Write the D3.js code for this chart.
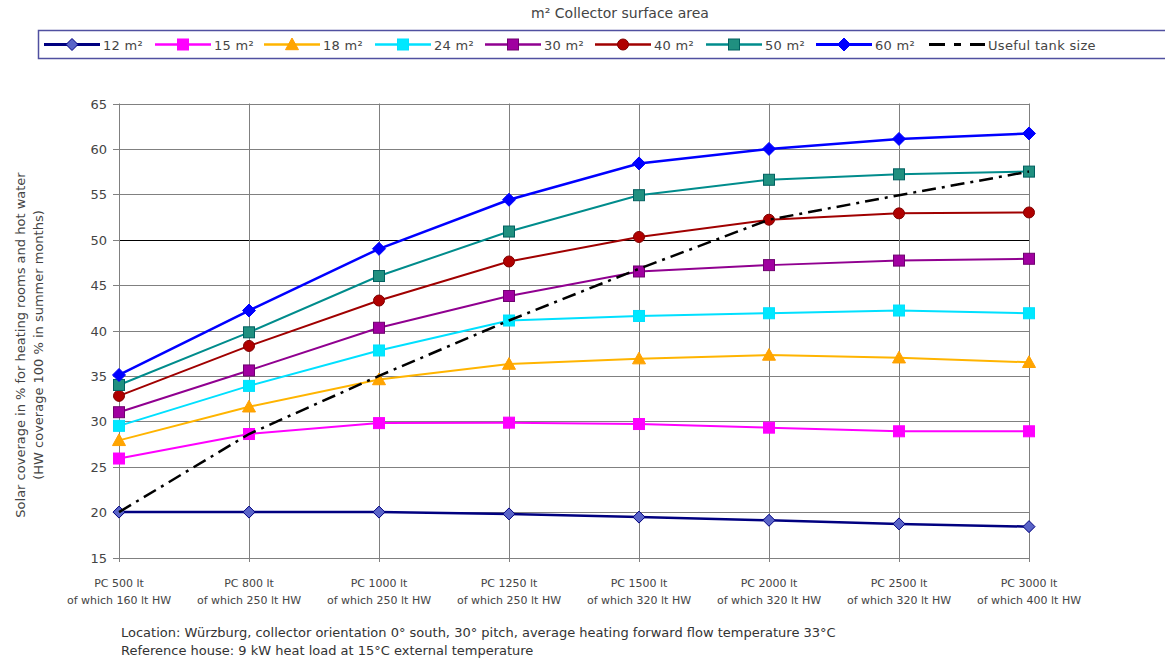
<!DOCTYPE html>
<html><head><meta charset="utf-8">
<script src="https://cdn.jsdelivr.net/npm/d3@7"></script>
<style>
html,body{margin:0;padding:0;background:#fff;}
svg{display:block;font-family:"DejaVu Sans",sans-serif;}
</style></head>
<body>
<svg id="chart" width="1165" height="662"></svg>
<script>
const categoriesTop = ["PC 500 lt","PC 800 lt","PC 1000 lt","PC 1250 lt","PC 1500 lt","PC 2000 lt","PC 2500 lt","PC 3000 lt"];
const categoriesBottom = ["of which 160 lt HW","of which 250 lt HW","of which 250 lt HW","of which 250 lt HW","of which 320 lt HW","of which 320 lt HW","of which 320 lt HW","of which 400 lt HW"];
const yTicks = [15,20,25,30,35,40,45,50,55,60,65];
const seriesNames = ["12 m²","15 m²","18 m²","24 m²","30 m²","40 m²","50 m²","60 m²","Useful tank size"];
const s12 = [20.0, 20.0, 20.0, 19.8, 19.45, 19.1, 18.7, 18.4];
const s15 = [25.9, 28.6, 29.8, 29.85, 29.7, 29.3, 28.9, 28.9];
const s18 = [27.9, 31.6, 34.6, 36.3, 36.9, 37.3, 37.0, 36.5];
const s24 = [29.5, 33.9, 37.8, 41.1, 41.6, 41.9, 42.2, 41.9];
const s30 = [31.0, 35.6, 40.3, 43.8, 46.5, 47.2, 47.7, 47.9];
const s40 = [32.8, 38.3, 43.3, 47.6, 50.3, 52.2, 52.9, 53.0];
const s50 = [34.0, 39.8, 46.0, 50.9, 54.9, 56.6, 57.2, 57.5];
const s60 = [35.1, 42.2, 49.0, 54.4, 58.4, 60.0, 61.1, 61.7];
const tank = [20.0, 28.6, 35.0, 41.1, 46.8, 52.2, 54.9, 57.5];
const footnotes = ["Location: Würzburg, collector orientation 0° south, 30° pitch, average heating forward flow temperature 33°C",
                   "Reference house: 9 kW heat load at 15°C external temperature"];

const styles = [
  {line:"#000080", fill:"#5a64c8", stroke:"#000080", shape:"diamond", w:2.5, size:10},
  {line:"#ff00ff", fill:"#ff00ff", stroke:"#ff00ff", shape:"square", w:2, size:11},
  {line:"#ffb400", fill:"#ffa500", stroke:"#ffa000", shape:"triangle", w:2, size:12},
  {line:"#00e0ff", fill:"#00e8ff", stroke:"#00e0ff", shape:"square", w:2, size:11},
  {line:"#900090", fill:"#a000a0", stroke:"#700070", shape:"square", w:2, size:11},
  {line:"#a00000", fill:"#b00000", stroke:"#800000", shape:"circle", w:2, size:11},
  {line:"#008c8c", fill:"#209080", stroke:"#006060", shape:"square", w:2, size:11},
  {line:"#0000ff", fill:"#0000ff", stroke:"#0000ff", shape:"diamond", w:2.5, size:11},
  {line:"#000000", dash:"14,6,3,6", w:2.5}
];
const allSeries = [s12,s15,s18,s24,s30,s40,s50,s60,tank];

const svg = d3.select("#chart");
const x = d3.scalePoint().domain(d3.range(categoriesTop.length)).range([119,1029]);
const y = d3.scaleLinear().domain([15,65]).range([557.5,103.5]);

// grid
const g = svg.append("g");
g.selectAll("line.h").data(yTicks).join("line")
  .attr("x1",119).attr("x2",1029)
  .attr("y1",d=>Math.round(y(d))+0.5).attr("y2",d=>Math.round(y(d))+0.5)
  .attr("stroke",d=>d===50?"#000":"#808080").attr("stroke-width",1);
g.selectAll("line.v").data(d3.range(categoriesTop.length)).join("line")
  .attr("x1",d=>Math.round(x(d))+0.5).attr("x2",d=>Math.round(x(d))+0.5)
  .attr("y1",103.5).attr("y2",562)
  .attr("stroke","#808080").attr("stroke-width",1);
// y ticks
g.selectAll("line.yt").data(yTicks).join("line")
  .attr("x1",113).attr("x2",119)
  .attr("y1",d=>Math.round(y(d))+0.5).attr("y2",d=>Math.round(y(d))+0.5)
  .attr("stroke","#808080");
g.selectAll("text.yl").data(yTicks).join("text")
  .attr("x",107).attr("y",d=>y(d)+5)
  .attr("text-anchor","end").attr("font-size",13).attr("fill","#444")
  .text(d=>d);

// x labels
g.selectAll("text.x1").data(categoriesTop).join("text")
  .attr("x",(d,i)=>x(i)).attr("y",587).attr("text-anchor","middle")
  .attr("font-size",11).attr("fill","#444").text(d=>d);
g.selectAll("text.x2").data(categoriesBottom).join("text")
  .attr("x",(d,i)=>x(i)).attr("y",604).attr("text-anchor","middle")
  .attr("font-size",11).attr("fill","#444").text(d=>d);

// y title
const yt = svg.append("text")
  .attr("font-size",13).attr("fill","#444").attr("text-anchor","middle");
yt.append("tspan").attr("x",-345).attr("y",25).text("Solar coverage in % for heating rooms and hot water");
yt.append("tspan").attr("x",-345).attr("y",43).text("(HW coverage 100 % in summer months)");
yt.attr("transform","rotate(-90)");

// symbol
function marker(sel, st, cx, cy){
  const s = st.size;
  let el;
  if(st.shape==="square"){
    el = sel.append("rect").attr("x",cx-s/2).attr("y",cy-s/2).attr("width",s).attr("height",s);
  } else if(st.shape==="circle"){
    el = sel.append("circle").attr("cx",cx).attr("cy",cy).attr("r",s/2);
  } else if(st.shape==="diamond"){
    const h=s/2+1;
    el = sel.append("path").attr("d",`M${cx},${cy-h}L${cx+h},${cy}L${cx},${cy+h}L${cx-h},${cy}Z`);
  } else {
    const h=s/2+0.5;
    el = sel.append("path").attr("d",`M${cx},${cy-h}L${cx+h},${cy+h*0.8}L${cx-h},${cy+h*0.8}Z`);
  }
  el.attr("fill",st.fill).attr("stroke",st.stroke).attr("stroke-width",1);
}

const lineGen = d3.line().x((d,i)=>x(i)).y(d=>y(d));
allSeries.forEach((data,k)=>{
  const st = styles[k];
  const gg = svg.append("g");
  gg.append("path").attr("d",lineGen(data)).attr("fill","none")
    .attr("stroke",st.line).attr("stroke-width",st.w)
    .attr("stroke-dasharray",st.dash||null);
  if(st.shape) data.forEach((v,i)=>marker(gg, st, x(i), y(v)));
});

// title
svg.append("text").attr("x",620).attr("y",18).attr("text-anchor","middle")
  .attr("font-size",14).attr("fill","#444").text("m² Collector surface area");

// legend
svg.append("rect").attr("x",38.5).attr("y",30.5).attr("width",1130).attr("height",28)
  .attr("fill","none").attr("stroke","#5050a0").attr("stroke-width",1.5);
const legX = [103,214,323,434,544,654,765,875,988];
seriesNames.forEach((name,k)=>{
  const st = styles[k];
  const tx = legX[k];
  const lg = svg.append("g");
  const x1 = tx-59, x2 = tx-3, ly = 44.5;
  if(st.dash){
    lg.append("line").attr("x1",x1).attr("x2",x2).attr("y1",ly).attr("y2",ly)
      .attr("stroke","#000").attr("stroke-width",3).attr("stroke-dasharray","16,9,7,9");
  } else {
    lg.append("line").attr("x1",x1).attr("x2",x2).attr("y1",ly).attr("y2",ly)
      .attr("stroke",st.line).attr("stroke-width",st.w+0.5);
    marker(lg, st, (x1+x2)/2, ly);
  }
  lg.append("text").attr("x",tx).attr("y",ly+5).attr("font-size",13).attr("letter-spacing",0.3)
    .attr("fill","#444").text(name);
});

// footnotes
svg.selectAll("text.fn").data(footnotes).join("text")
  .attr("x",121).attr("y",(d,i)=>637+i*18).attr("font-size",13).attr("fill","#333").text(d=>d);
</script>
</body></html>
